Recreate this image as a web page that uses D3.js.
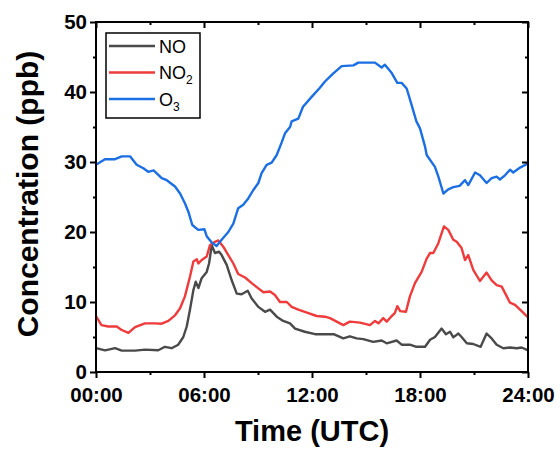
<!DOCTYPE html>
<html>
<head>
<meta charset="utf-8">
<script src="https://cdn.jsdelivr.net/npm/d3@7"></script>
<style>
  body { margin: 0; background: #fff; }
  svg { font-family: "Liberation Sans", Arial, sans-serif; }
</style>
</head>
<body>
<div id="chart"></div>
<script>
// hours (UTC) and concentrations (ppb)
const noData = [
    [0, 3.4], [0.5, 3.1], [1.06, 3.4], [1.43, 3.05], [2.17, 3.05], [2.72, 3.2],
    [3.46, 3.1], [3.83, 3.6], [4.2, 3.4], [4.57, 3.9], [4.85, 5], [5.04, 6.5],
    [5.22, 8.9], [5.41, 11.7], [5.54, 12.9], [5.69, 12], [5.87, 13.4], [6.15, 14.3],
    [6.28, 15.5], [6.43, 18.1], [6.61, 17], [6.83, 17.2], [6.98, 16.7], [7.26, 15.3],
    [7.54, 13.1], [7.82, 11.2], [8.09, 11.1], [8.43, 11.6], [8.65, 10.5], [9.02, 9.3],
    [9.39, 8.6], [9.67, 8.9], [10.04, 7.9], [10.4, 7.3], [10.78, 6.95], [11.06, 6.2],
    [11.6, 5.75], [12.17, 5.4], [12.72, 5.4], [13.2, 5.4], [13.74, 4.8], [14.1, 5.1],
    [14.48, 4.8], [14.85, 4.7], [15.4, 4.3], [15.87, 4.5], [16.15, 4.1], [16.7, 4.5],
    [16.98, 3.9], [17.44, 3.9], [17.8, 3.6], [18.28, 3.6], [18.56, 4.6], [18.83, 5],
    [19.2, 6.2], [19.44, 5.4], [19.67, 5.75], [19.85, 4.95], [20.13, 5.5], [20.31, 5],
    [20.6, 4.1], [20.96, 4], [21.37, 3.6], [21.7, 5.5], [21.98, 4.8], [22.26, 3.9],
    [22.63, 3.4], [23, 3.5], [23.37, 3.4], [23.65, 3.5], [24, 3.1]
];
const no2Data = [
    [0, 8], [0.3, 6.7], [0.68, 6.5], [1.15, 6.5], [1.43, 6], [1.8, 5.6], [2.17, 6.4],
    [2.72, 6.95], [3.28, 6.95], [3.65, 6.9], [4.02, 7.3], [4.39, 8.1], [4.67, 9.1],
    [4.94, 10.8], [5.22, 13.6], [5.41, 15.8], [5.6, 16.1], [5.69, 15.5], [5.87, 16],
    [6.15, 16.5], [6.33, 18.1], [6.61, 18.6], [6.8, 18.8], [7.07, 17.9], [7.35, 16.7],
    [7.63, 15.5], [7.9, 14], [8.28, 13.5], [8.65, 12.7], [9.02, 11.95], [9.3, 11.4],
    [9.67, 11.5], [9.94, 11], [10.22, 10], [10.6, 10], [10.87, 9.3], [11.24, 8.9],
    [11.8, 8.4], [12.26, 8], [12.72, 7.9], [13, 7.7], [13.37, 7.2], [13.74, 6.7],
    [14.1, 7.2], [14.67, 7.05], [15.22, 6.7], [15.5, 7.3], [15.69, 6.95], [15.96, 7.7],
    [16.15, 7.2], [16.43, 8], [16.6, 8.4], [16.74, 9.4], [16.9, 8.7], [17.22, 8.6],
    [17.44, 10.8], [17.72, 12.7], [18.09, 14.3], [18.37, 16.2], [18.56, 17], [18.74, 17],
    [19.02, 18.4], [19.33, 20.8], [19.57, 20.3], [19.85, 18.9], [20.04, 18.6], [20.31, 17.7],
    [20.5, 16], [20.68, 16.7], [20.96, 14.6], [21.33, 13], [21.7, 14.2], [21.98, 13.1],
    [22.26, 12.4], [22.54, 12.2], [23, 9.9], [23.28, 9.6], [23.56, 8.9], [24, 7.8]
];
const o3Data = [
    [0, 29.6], [0.5, 30.4], [1.06, 30.4], [1.43, 30.8], [1.9, 30.8], [2.26, 29.6],
    [2.63, 29.1], [2.9, 28.6], [3.2, 28.8], [3.65, 27.7], [3.93, 27.4], [4.39, 26.5],
    [4.67, 25.5], [4.94, 24.1], [5.13, 22.9], [5.35, 21], [5.68, 20.3], [6.02, 20.4],
    [6.15, 19.4], [6.43, 18.5], [6.7, 18], [6.98, 18.9], [7.35, 20], [7.63, 21.2],
    [7.9, 23.4], [8.18, 23.9], [8.46, 24.8], [8.74, 26], [9.02, 27], [9.2, 28.4],
    [9.48, 29.6], [9.76, 29.9], [10.04, 31], [10.3, 32.7], [10.5, 34.1], [10.78, 35],
    [10.87, 35.8], [11.24, 36.2], [11.5, 37.9], [11.98, 39.3], [12.44, 40.6], [12.72, 41.5],
    [13, 42.2], [13.2, 42.7], [13.65, 43.7], [14.3, 43.8], [14.57, 44.2], [15, 44.2],
    [15.5, 44.2], [15.87, 43.5], [16.05, 43.9], [16.43, 42.7], [16.74, 41.3], [16.98, 41.3],
    [17.26, 40.5], [17.54, 38.1], [17.8, 35.8], [18, 34.8], [18.28, 32.2], [18.37, 31],
    [18.83, 29.3], [19.02, 27.9], [19.3, 25.5], [19.57, 26.1], [19.85, 26.4], [20.2, 26.6],
    [20.5, 27.4], [20.68, 26.7], [21.06, 28.5], [21.33, 28.1], [21.7, 27], [21.98, 27.7],
    [22.26, 27.9], [22.44, 27.5], [22.72, 28.1], [23, 28.9], [23.18, 28.5], [23.56, 29.2],
    [24, 29.8]
];

const xTicks = [0, 6, 12, 18, 24];
const xMinorTicks = [3, 9, 15, 21];
const yTicks = [0, 10, 20, 30, 40, 50];
const yMinorTicks = [5, 15, 25, 35, 45];

const series = [
    { name: "NO", sub: "", data: noData, color: "#4a4a4a" },
    { name: "NO", sub: "2", data: no2Data, color: "#ef3b3b" },
    { name: "O", sub: "3", data: o3Data, color: "#1c6fe3" }
];

const width = 560, height = 450;
const margin = { top: 22, right: 32, bottom: 78, left: 96 };
const innerW = width - margin.left - margin.right;
const innerH = height - margin.top - margin.bottom;

const svg = d3.select("#chart").append("svg")
    .attr("width", width)
    .attr("height", height);

const x = d3.scaleLinear().domain([0, 24]).range([margin.left, margin.left + innerW]);
const y = d3.scaleLinear().domain([0, 50]).range([margin.top + innerH, margin.top]);

const fmtHour = h => String(h).padStart(2, "0") + ":00";

// lines first so the frame sits on top
const line = d3.line().x(d => x(d[0])).y(d => y(d[1]));

svg.append("g")
    .selectAll("path")
    .data(series)
    .enter()
    .append("path")
    .attr("d", d => line(d.data))
    .attr("fill", "none")
    .attr("stroke", d => d.color)
    .attr("stroke-width", 2.4)
    .attr("stroke-linejoin", "round");

// axes: bottom/left ticks outward, top/right inward
function styleAxis(g) {
    g.select(".domain").remove();
    g.selectAll(".tick line").attr("stroke", "#000").attr("stroke-width", 2);
}

let bottom = svg.append("g")
    .attr("transform", `translate(0,${y(0)})`)
    .call(d3.axisBottom(x).tickValues(xTicks).tickSize(6).tickPadding(9).tickFormat(fmtHour));
styleAxis(bottom);
bottom.selectAll("text")
    .attr("font-size", 20.5).attr("font-weight", "bold").attr("fill", "#000");

svg.append("g")
    .attr("transform", `translate(0,${y(0)})`)
    .call(d3.axisBottom(x).tickValues(xMinorTicks).tickSize(3).tickFormat(""))
    .call(styleAxis);

let left = svg.append("g")
    .attr("transform", `translate(${x(0)},0)`)
    .call(d3.axisLeft(y).tickValues(yTicks).tickSize(6).tickPadding(3));
styleAxis(left);
left.selectAll("text")
    .attr("font-size", 20.5).attr("font-weight", "bold").attr("fill", "#000");

svg.append("g")
    .attr("transform", `translate(${x(0)},0)`)
    .call(d3.axisLeft(y).tickValues(yMinorTicks).tickSize(3).tickFormat(""))
    .call(styleAxis);

svg.append("g")
    .attr("transform", `translate(0,${y(50)})`)
    .call(d3.axisTop(x).tickValues(xTicks).tickSize(-6).tickFormat(""))
    .call(styleAxis);
svg.append("g")
    .attr("transform", `translate(0,${y(50)})`)
    .call(d3.axisTop(x).tickValues(xMinorTicks).tickSize(-3).tickFormat(""))
    .call(styleAxis);
svg.append("g")
    .attr("transform", `translate(${x(24)},0)`)
    .call(d3.axisRight(y).tickValues(yTicks).tickSize(-6).tickFormat(""))
    .call(styleAxis);
svg.append("g")
    .attr("transform", `translate(${x(24)},0)`)
    .call(d3.axisRight(y).tickValues(yMinorTicks).tickSize(-3).tickFormat(""))
    .call(styleAxis);

svg.append("rect")
    .attr("x", x(0)).attr("y", y(50))
    .attr("width", x(24) - x(0)).attr("height", y(0) - y(50))
    .attr("fill", "none").attr("stroke", "#000").attr("stroke-width", 2);

// axis titles
svg.append("text")
    .attr("x", (x(0) + x(24)) / 2)
    .attr("y", 441)
    .attr("text-anchor", "middle")
    .attr("font-size", 29).attr("font-weight", "bold")
    .text("Time (UTC)");

svg.append("text")
    .attr("transform", `translate(38,${(y(0) + y(50)) / 2 - 3}) rotate(-90)`)
    .attr("text-anchor", "middle")
    .attr("font-size", 30).attr("font-weight", "bold")
    .text("Concentration (ppb)");

// legend
const legend = svg.append("g").attr("transform", "translate(106,33)");
legend.append("rect")
    .attr("width", 94).attr("height", 85)
    .attr("fill", "#fff").attr("stroke", "#000").attr("stroke-width", 1.5);

const rows = legend.selectAll(".row")
    .data(series)
    .enter()
    .append("g")
    .attr("transform", (d, i) => `translate(0,${13 + i * 26.5})`);

rows.append("line")
    .attr("x1", 3).attr("x2", 49)
    .attr("stroke", d => d.color).attr("stroke-width", 2.4);

const label = rows.append("text")
    .attr("x", 53).attr("y", 6.5)
    .attr("font-size", 18)
    .text(d => d.name);
label.append("tspan")
    .attr("font-size", 12)
    .attr("dy", 5)
    .text(d => d.sub);
</script>
</body>
</html>
